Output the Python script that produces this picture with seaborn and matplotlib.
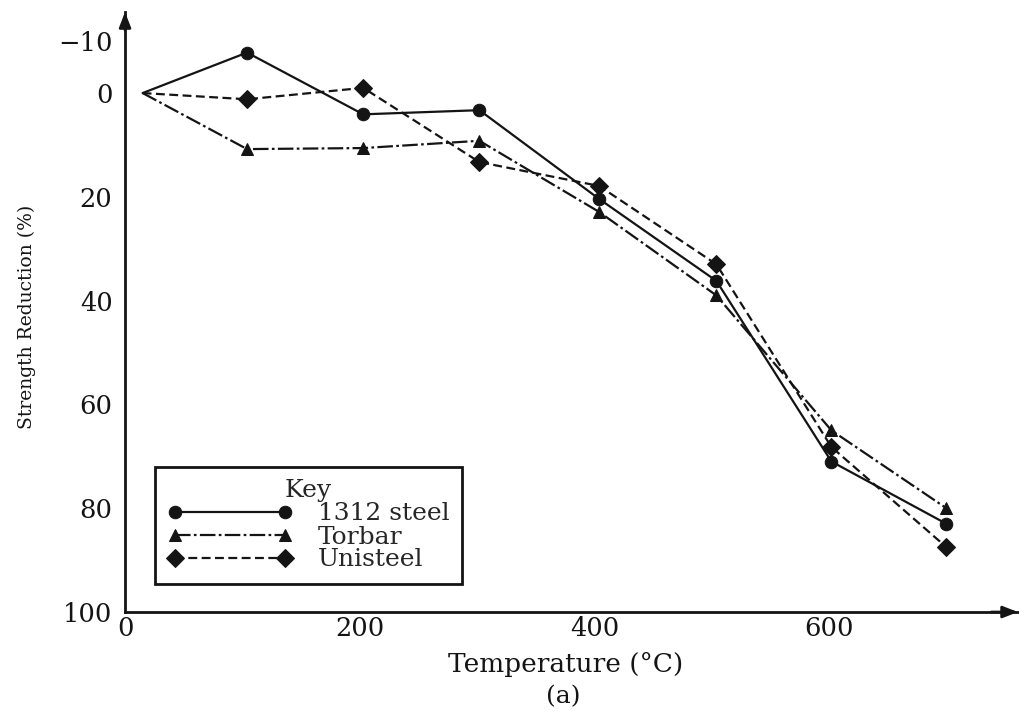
import pandas as pd
import numpy as np
import seaborn as sns
import matplotlib.pyplot as plt

# values
temps = [15, 104, 203, 302, 404, 504, 602, 700]
steel_1312 = [0, -7.8, 4.1, 3.3, 20.4, 36.2, 71.0, 83.0]
torbar = [0, 10.8, 10.6, 9.2, 22.9, 39.0, 65.0, 80.0]
unisteel = [0, 1.2, -1.0, 13.3, 17.9, 33.0, 68.2, 87.5]
names = ['1312 steel', 'Torbar', 'Unisteel']

xticks = [0, 100, 200, 300, 400, 500, 600, 700]
xticklabels = ['0', '', '200', '', '400', '', '600', '']
yticks = [-10, 0, 10, 20, 30, 40, 50, 60, 70, 80, 90, 100]
yticklabels = ['\u221210', '0', '', '20', '', '40', '', '60', '', '80', '', '100']

df = pd.DataFrame({
    'temp': temps * 3,
    'reduction': steel_1312 + torbar + unisteel,
    'material': [n for n in names for _ in temps],
})

sns.set_style('white')
plt.rcParams['font.family'] = ['DejaVu Serif']
ink = '#141414'

fig = plt.figure(figsize=(10.19, 7.11), dpi=100)
ax = fig.add_axes([0.1227, 0.1392, 0.8763, 0.8438])

# no marker on the room-temperature starting point
sns.lineplot(data=df, x='temp', y='reduction', style='material', ax=ax,
             markers={'1312 steel': 'o', 'Torbar': '^', 'Unisteel': 'D'},
             dashes={'1312 steel': '', 'Torbar': (7, 1.5, 1.2, 1.5), 'Unisteel': (4, 2)},
             color=ink, linewidth=1.6, markersize=9, markeredgecolor=ink,
             markevery=list(range(1, len(temps))),
             estimator=None, sort=False, clip_on=False)

ax.set_xlim(0, 761)
ax.set_ylim(100, -15.6)

for s in ['top', 'right']:
    ax.spines[s].set_visible(False)
for s in ['left', 'bottom']:
    ax.spines[s].set_linewidth(2)
    ax.spines[s].set_color(ink)

ax.set_xticks(xticks)
ax.set_xticklabels(xticklabels)
ax.set_yticks(yticks)
ax.set_yticklabels(yticklabels)
ax.tick_params(axis='both', direction='in', length=8, width=2, color=ink,
               labelsize=18.5, labelcolor=ink)
ax.tick_params(axis='y', pad=9)
ax.tick_params(axis='x', pad=3)

# arrow heads on the axes
ax.annotate('', xy=(0, 1), xytext=(0, 0.97), xycoords='axes fraction',
            arrowprops=dict(arrowstyle='-|>,head_length=0.9,head_width=0.35',
                            color=ink, lw=2, shrinkA=0, shrinkB=0))
ax.annotate('', xy=(1, 0), xytext=(0.97, 0), xycoords='axes fraction',
            arrowprops=dict(arrowstyle='-|>,head_length=0.9,head_width=0.35',
                            color=ink, lw=2, shrinkA=0, shrinkB=0))

ax.set_xlabel('')
ax.set_ylabel('Strength Reduction (%)', fontsize=13.5, color=ink)
ax.yaxis.set_label_coords(-0.1, 0.492)
fig.text(0.555, 0.065, 'Temperature (\u00b0C)', ha='center', va='center',
         fontsize=19, color=ink)
fig.text(0.553, 0.02, '(a)', ha='center', va='center', fontsize=18, color=ink)

handles, labels = ax.get_legend_handles_labels()
leg = ax.legend(handles, labels, title='Key', loc='upper left',
                bbox_to_anchor=(155 / 1019, 1 - 467 / 711),
                bbox_transform=fig.transFigure, borderaxespad=0,
                fontsize=18, title_fontsize=18, handlelength=5.0,
                handletextpad=1.0, numpoints=2, labelspacing=0.0,
                fancybox=False, framealpha=1, edgecolor=ink, borderpad=0.5)
leg.get_frame().set_linewidth(2)

fig.savefig('out.png', dpi=100)
